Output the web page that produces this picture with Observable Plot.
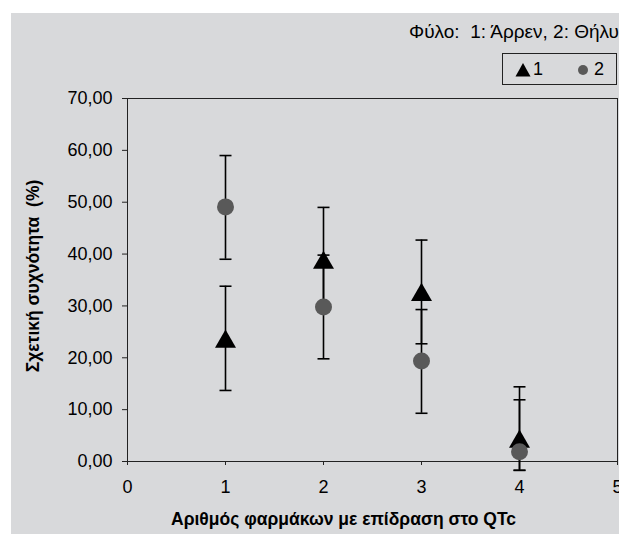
<!DOCTYPE html>
<html>
<head>
<meta charset="utf-8">
<script src="https://cdn.jsdelivr.net/npm/d3@7"></script>
<script src="https://cdn.jsdelivr.net/npm/@observablehq/plot@0.6"></script>
<style>
  html, body { margin: 0; padding: 0; background: #fff; }
  #wrap { position: absolute; left: 11px; top: 13px; width: 608px; height: 521px; background: #d8d9db; overflow: hidden;
          font-family: Arial, "Liberation Sans", sans-serif; color: #000; }
  #title { position: absolute; right: 0; top: 8px; font-size: 19px; white-space: pre; line-height: 22px; }
  #legend { position: absolute; left: 491px; top: 40px; width: 113px; height: 30px; border: 1px solid #222;
            font-size: 18px; }
  #legend .it { position: absolute; top: 5px; line-height: 20px; }
  #chart { position: absolute; left: 0; top: 0; }
</style>
</head>
<body>
<div id="wrap">
  <div id="title">Φύλο:  1: Άρρεν, 2: Θήλυ</div>
  <div id="legend">
    <svg style="position:absolute;left:12px;top:9px" width="16" height="14"><path d="M8,0L15.5,13.5L0.5,13.5Z" fill="#000"/></svg>
    <span class="it" style="left:30px">1</span>
    <svg style="position:absolute;left:74px;top:10px" width="12" height="12"><circle cx="6" cy="6" r="5" fill="#595959"/></svg>
    <span class="it" style="left:91px">2</span>
  </div>
  <div id="chart"></div>
</div>
<script>
// Data
const drugCounts = [1, 2, 3, 4];
const maleValues = [23.7, 38.9, 32.7, 4.4];
const maleLow    = [13.7, 28.9, 22.7, -1.7];
const maleHigh   = [33.8, 49.0, 42.7, 14.4];
const femaleValues = [49.1, 29.8, 19.4, 1.9];
const femaleLow    = [39.0, 19.8, 9.3, -1.7];
const femaleHigh   = [59.0, 39.8, 29.3, 11.9];
const xTicks = [0, 1, 2, 3, 4, 5];
const yTicks = [0, 10, 20, 30, 40, 50, 60, 70];
const xLabel = "Αριθμός φαρμάκων με επίδραση στο QTc";
const yLabel = "Σχετική συχνότητα  (%)";

const males = drugCounts.map((x, i) => ({x, y: maleValues[i], lo: maleLow[i], hi: maleHigh[i]}));
const females = drugCounts.map((x, i) => ({x, y: femaleValues[i], lo: femaleLow[i], hi: femaleHigh[i]}));
const all = males.concat(females);

// Triangle centred on its bounding box (like spreadsheet markers)
const triangleSym = {
  draw(ctx, size) {
    const s = Math.sqrt(size * 4 / Math.sqrt(3));
    const h = s * Math.sqrt(3) / 2;
    ctx.moveTo(0, -h / 2);
    ctx.lineTo(s / 2, h / 2);
    ctx.lineTo(-s / 2, h / 2);
    ctx.closePath();
  }
};
// Horizontal error-bar cap
const capSym = {
  draw(ctx, size) {
    const w = Math.sqrt(size / Math.PI);
    ctx.moveTo(-w, 0);
    ctx.lineTo(w, 0);
  }
};

const fmt = d => d.toFixed(2).replace(".", ",");

const chart = Plot.plot({
  width: 608,
  height: 521,
  marginLeft: 116,
  marginRight: 2,
  marginTop: 85,
  marginBottom: 73,
  style: {background: "transparent", fontFamily: "Arial, 'Liberation Sans', sans-serif", fontSize: "18px", color: "#000", overflow: "visible"},
  x: {domain: [0, 5], label: null},
  y: {domain: [0, 70], label: null},
  marks: [
    Plot.frame({stroke: "#222", strokeWidth: 1}),
    Plot.axisX({ticks: xTicks, tickFormat: d => String(d), tickSize: 4, tickPadding: 15, label: null, stroke: "#222", fontSize: 18}),
    Plot.axisY({ticks: yTicks, tickFormat: fmt, tickSize: 5, tickPadding: 10, label: null, stroke: "#222", fontSize: 18}),
    Plot.ruleX(all, {x: "x", y1: "lo", y2: "hi", stroke: "#000", strokeWidth: 1.6}),
    Plot.dot(all, {x: "x", y: "hi", symbol: capSym, r: 6, fill: "none", stroke: "#000", strokeWidth: 1.6}),
    Plot.dot(all, {x: "x", y: "lo", symbol: capSym, r: 6, fill: "none", stroke: "#000", strokeWidth: 1.6}),
    Plot.dot(males, {x: "x", y: "y", symbol: triangleSym, r: 7.8, fill: "#000", stroke: "none"}),
    Plot.dot(females, {x: "x", y: "y", r: 8.5, fill: "#595959", stroke: "none"}),
    Plot.text([xLabel], {frameAnchor: "bottom", dx: -29, dy: 58, lineAnchor: "middle", textAnchor: "middle", fontWeight: "bold", fontSize: 17.5}),
    Plot.text([yLabel], {frameAnchor: "left", dx: -94, dy: -4, rotate: -90, lineAnchor: "middle", textAnchor: "middle", fontWeight: "bold", fontSize: 17.5})
  ]
});
document.getElementById("chart").appendChild(chart);
</script>
</body>
</html>
